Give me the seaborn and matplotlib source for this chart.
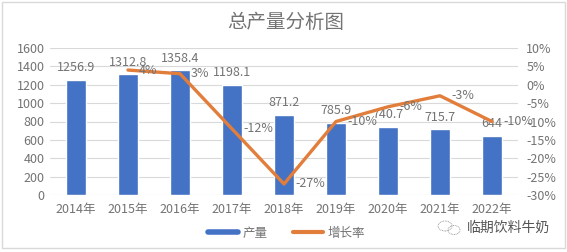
import matplotlib
matplotlib.use("Agg")
import matplotlib.pyplot as plt
import seaborn as sns
import pandas as pd
from matplotlib.lines import Line2D
from matplotlib.patches import Rectangle, Ellipse

years = ["2014年", "2015年", "2016年", "2017年", "2018年", "2019年", "2020年", "2021年", "2022年"]
production = [1256.9, 1312.8, 1358.4, 1198.1, 871.2, 785.9, 740.7, 715.7, 644]
growth_years = ["2015年", "2016年", "2017年", "2018年", "2019年", "2020年", "2021年", "2022年"]
growth = [4, 3, -12, -27, -10, -6, -3, -10]
production_labels = ["1256.9", "1312.8", "1358.4", "1198.1", "871.2", "785.9", "740.7", "715.7", "644"]
growth_labels = ["4%", "3%", "-12%", "-27%", "-10%", "-6%", "-3%", "-10%"]

sns.set_theme(style="white")
plt.rcParams['font.family'] = ['Noto Sans CJK SC', 'DejaVu Sans']
plt.rcParams['axes.unicode_minus'] = False

TXT = "#737373"
BLUE = "#4472C4"
ORANGE = "#E27E3C"
GRID = "#D9D9D9"

fig = plt.figure(figsize=(5.67, 2.52), dpi=100)
fig.patch.set_facecolor("white")
ax = fig.add_axes([50/567, 1-195/252, 468/567, 147/252])

df = pd.DataFrame({"year": years, "production": production})
sns.barplot(data=df, x="year", y="production", color=BLUE, width=0.4,
            saturation=1, ax=ax, zorder=2)
ax.set_ylim(0, 1600)
ax.set_yticks(range(0, 1601, 200))
ax.set_xlim(-0.5, len(years) - 0.5)
ax.set_xlabel("")
ax.set_ylabel("")
ax.grid(axis="y", color=GRID, linewidth=0.8, zorder=0)
ax.set_axisbelow(True)
for s in ax.spines.values():
    s.set_visible(False)
ax.tick_params(axis="both", length=0, labelsize=9, colors=TXT, pad=4)
ax.tick_params(axis="x", pad=6)

for i, (v, lab) in enumerate(zip(production, production_labels)):
    ax.annotate(lab, (i, v), xytext=(0, 4), textcoords="offset points",
                ha="center", va="bottom", fontsize=9, color=TXT, zorder=5)

ax2 = ax.twinx()
gx = [years.index(y) for y in growth_years]
sns.lineplot(x=gx, y=growth, ax=ax2, color=ORANGE, linewidth=2.4, zorder=4)
ax2.set_ylim(-30, 10)
ax2.set_yticks(range(-30, 11, 5))
ax2.set_yticklabels([f"{t}%" for t in range(-30, 11, 5)])
for s in ax2.spines.values():
    s.set_visible(False)
ax2.tick_params(axis="y", length=0, labelsize=9, colors=TXT, pad=6)
ax2.grid(False)
for x, v, lab in zip(gx, growth, growth_labels):
    ax2.annotate(lab, (x, v), xytext=(8, 0), textcoords="offset points",
                 ha="left", va="center", fontsize=9, color=TXT, zorder=5)

fig.text(0.503, 1-22/252, "总产量分析图", ha="center", va="center",
         fontsize=14, color=TXT)

handles = [Line2D([0], [0], color=BLUE, linewidth=4),
           Line2D([0], [0], color=ORANGE, linewidth=3)]
fig.legend(handles, ["产量", "增长率"], loc="center", bbox_to_anchor=(0.505, 1-233/252),
           ncol=2, frameon=False, fontsize=9, labelcolor=TXT, handlelength=2.4,
           columnspacing=2.0, handletextpad=0.4)

# watermark
fig.text(467/567, 1-228/252, "临期饮料牛奶", ha="left", va="center", fontsize=10, color="#555555")
fig.patches.append(Ellipse((445/567, 1-226/252), 14/567, 10/252, transform=fig.transFigure,
                           fill=False, edgecolor="#888888", linewidth=0.6, linestyle=(0, (1, 1))))
fig.patches.append(Ellipse((454/567, 1-230/252), 12/567, 9/252, transform=fig.transFigure,
                           fill=False, edgecolor="#888888", linewidth=0.6, linestyle=(0, (1, 1))))

fig.patches.append(Rectangle((2/567, 4/252), 563/567, 246/252, transform=fig.transFigure,
                             fill=False, edgecolor="#D9D9D9", linewidth=1.0))

fig.savefig("out.png", dpi=100, facecolor="white")
